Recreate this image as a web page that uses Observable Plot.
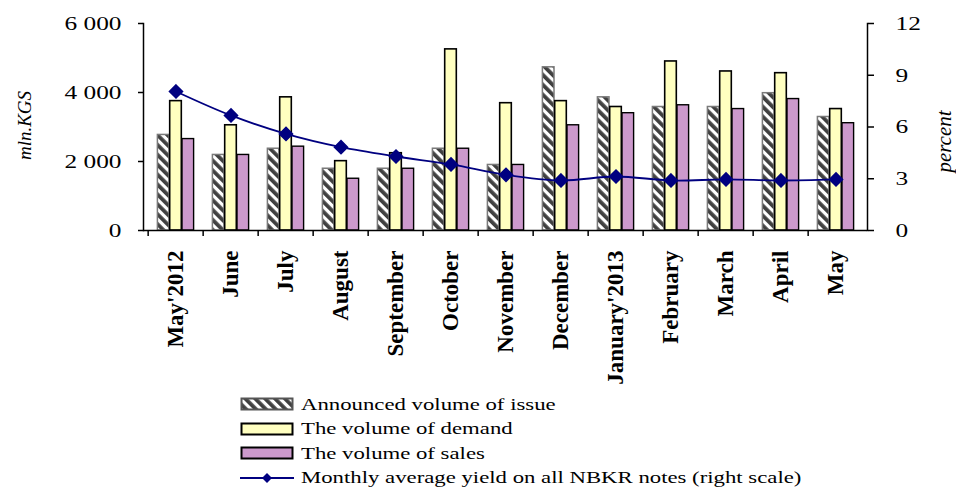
<!DOCTYPE html>
<html>
<head>
<meta charset="utf-8">
<script src="https://cdn.jsdelivr.net/npm/d3@7"></script>
<script src="https://cdn.jsdelivr.net/npm/@observablehq/plot@0.6"></script>
<style>
  body { margin: 0; background: #fff; font-family: "Liberation Serif", "Times New Roman", serif; }
  #chart { width: 956px; height: 390px; position: relative; }
  #legend { margin-left: 240px; margin-top: 2px; font-size: 17.5px; color: #000; }
  .row { height: 24.5px; display: flex; align-items: center; }
  .row svg { margin-right: 7px; flex: none; }
  .row span { display: inline-block; transform: scaleX(1.3); transform-origin: left center; white-space: nowrap; }
</style>
</head>
<body>
<div id="chart"></div>
<div id="legend"></div>
<script>
const months = ["May'2012","June","July","August","September","October","November","December","January'2013","February","March","April","May"];
const announced = [2770, 2190, 2370, 1790, 1790, 2370, 1900, 4730, 3860, 3580, 3580, 3980, 3290];
const demand    = [3750, 3050, 3860, 2010, 2240, 5250, 3690, 3750, 3580, 4900, 4610, 4560, 3520];
const sales     = [2650, 2190, 2430, 1500, 1790, 2370, 1900, 3050, 3400, 3630, 3520, 3810, 3110];
const yieldPct  = [8.06, 6.67, 5.6, 4.83, 4.29, 3.83, 3.23, 2.9, 3.13, 2.9, 2.96, 2.9, 2.96];
const leftTicks = [0, 2000, 4000, 6000];
const rightTicks = [0, 3, 6, 9, 12];
const seriesNames = ["Announced volume of issue", "The volume of demand", "The volume of sales", "Monthly average yield on all NBKR notes (right scale)"];

const W = 956, H = 390, ML = 143, MR = 89, MT = 23, MB = 160;
const yMax = 6000, rMax = 12, k = yMax / rMax;
const step = (W - ML - MR) / months.length;
const bw = 12.3;
const c = step / 2;
const g0 = c - 1.5 * bw;

const rows = months.map((m, i) => ({month: m, announced: announced[i], demand: demand[i], sales: sales[i], yld: yieldPct[i]}));
const fmt = d3.formatLocale({thousands: " ", grouping: [3], decimal: "."}).format(",");

const font = "Liberation Serif";

const plot = Plot.plot({
  width: W, height: H,
  marginLeft: ML, marginRight: MR, marginTop: MT, marginBottom: MB,
  style: {fontFamily: font, background: "white", overflow: "visible"},
  x: {type: "band", domain: months, padding: 0, axis: null},
  y: {domain: [0, yMax], axis: null},
  marks: [
    Plot.barY(rows, {x: "month", y: "announced", fill: "url(#hatch)", stroke: "#7a7a7a", strokeWidth: 1.5,
      insetLeft: g0, insetRight: step - g0 - bw}),
    Plot.barY(rows, {x: "month", y: "demand", fill: "#FFFFC0", stroke: "#000", strokeWidth: 1.6,
      insetLeft: g0 + bw, insetRight: step - g0 - 2 * bw}),
    Plot.barY(rows, {x: "month", y: "sales", fill: "#CC99CC", stroke: "#000", strokeWidth: 1.4,
      insetLeft: g0 + 2 * bw, insetRight: step - g0 - 3 * bw}),
    Plot.ruleY([0], {stroke: "#000", strokeWidth: 1.5}),
    Plot.frame({anchor: "left", stroke: "#000", strokeWidth: 1.5}),
    Plot.frame({anchor: "right", stroke: "#000", strokeWidth: 1.5}),
    Plot.ruleX(months, {x: d => d, dx: -step / 2, y1: 0, y2: 0, insetBottom: -6, stroke: "#000", strokeWidth: 1.5}),
    Plot.axisY({anchor: "left", ticks: leftTicks, tickFormat: fmt, tickSize: 5, tickPadding: 17,
      fontSize: 19.5, label: null, stroke: "#000", strokeWidth: 1.5}),
    Plot.axisY({anchor: "right", ticks: rightTicks.map(d => d * k), tickFormat: d => d / k,
      tickSize: 6, tickPadding: 22, fontSize: 19.5, label: null, stroke: "#000", strokeWidth: 1.5}),
    Plot.lineY(rows, {x: "month", y: d => d.yld * k, stroke: "#000080", strokeWidth: 1.8, curve: "catmull-rom"}),
    Plot.dot(rows, {x: "month", y: d => d.yld * k, symbol: "diamond2", r: 5.9, fill: "#000080", stroke: "#000080"}),
    Plot.text(rows, {x: "month", text: "month", frameAnchor: "bottom", rotate: -90, textAnchor: "end",
      dy: 20, fontWeight: "bold", fontSize: 23, fill: "#000", lineAnchor: "middle"}),
    Plot.text(["mln.KGS"], {frameAnchor: "left", text: d => d, rotate: -90, textAnchor: "middle", dx: -119, dy: -1.5,
      fontStyle: "italic", fontSize: 19, fill: "#000"}),
    Plot.text(["percent"], {frameAnchor: "right", text: d => d, rotate: -90, textAnchor: "middle", dx: 77, dy: 14.5,
      fontStyle: "italic", fontSize: 21, fill: "#000"})
  ]
});

function hatchDefs(svg, id) {
  const defs = d3.select(svg).insert("defs", ":first-child");
  const p = defs.append("pattern").attr("id", id).attr("patternUnits", "userSpaceOnUse")
    .attr("width", 7).attr("height", 7).attr("patternTransform", "rotate(-45)");
  p.append("rect").attr("width", 7).attr("height", 7).attr("fill", "#fff");
  p.append("rect").attr("width", 3.8).attr("height", 7).attr("fill", "#404040");
}
hatchDefs(plot, "hatch");
document.getElementById("chart").appendChild(plot);

// widen the y tick labels horizontally, as in the reference
d3.select(plot).selectAll("g").filter(function() {
  const a = this.getAttribute("aria-label") || "";
  return /tick label/.test(a);
}).selectAll("text").each(function() {
  const len = this.getComputedTextLength();
  if (len > 0) { this.setAttribute("textLength", len * 1.3); this.setAttribute("lengthAdjust", "spacingAndGlyphs"); }
});

// Legend
const legend = d3.select("#legend");
const swatches = [
  {fill: "url(#hatchL)", stroke: "#555"},
  {fill: "#FFFFC0", stroke: "#000"},
  {fill: "#CC99CC", stroke: "#000"},
  {line: true}
];
seriesNames.forEach((name, i) => {
  const row = legend.append("div").attr("class", "row");
  const s = row.append("svg").attr("width", 54).attr("height", 16);
  const sw = swatches[i];
  if (i === 0) hatchDefs(s.node(), "hatchL");
  if (sw.line) {
    s.append("line").attr("x1", 0).attr("x2", 54).attr("y1", 8).attr("y2", 8).attr("stroke", "#000080").attr("stroke-width", 2);
    s.append("path").attr("d", "M27,3L32,8L27,13L22,8Z").attr("fill", "#000080");
  } else {
    s.append("rect").attr("x", 1.5).attr("y", 2.5).attr("width", 51).attr("height", 11)
      .attr("fill", sw.fill).attr("stroke", sw.stroke).attr("stroke-width", 2);
  }
  row.append("span").text(name);
});
</script>
</body>
</html>
